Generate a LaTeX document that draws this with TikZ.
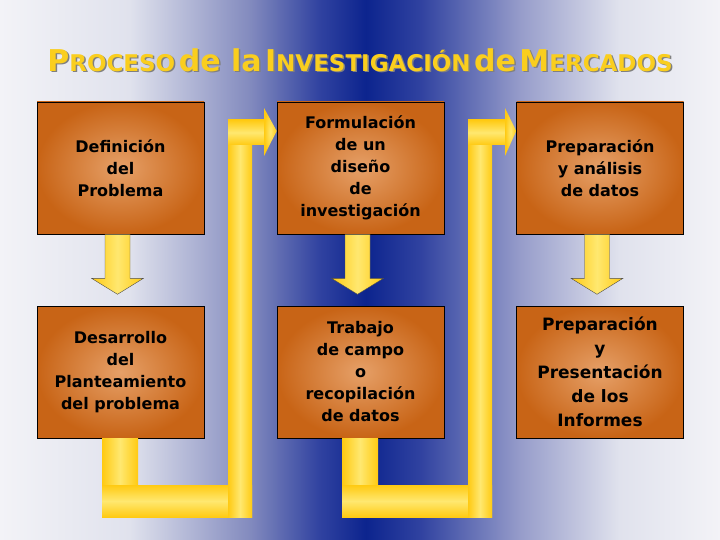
\documentclass[tikz,border=0pt]{standalone}
\usepackage{fontspec}
\setmainfont{DejaVu Sans}
\usetikzlibrary{positioning}

\definecolor{bglight}{RGB}{243,243,247}
\definecolor{bgpale}{RGB}{224,226,237}
\definecolor{bgmid}{RGB}{130,138,190}
\definecolor{bgdeep}{RGB}{48,66,160}
\definecolor{bgblue}{RGB}{12,36,142}
\definecolor{bgsoft}{RGB}{150,156,202}
\definecolor{boxdark}{RGB}{200,100,22}
\definecolor{boxlight}{RGB}{230,160,104}
\definecolor{ydark}{RGB}{255,202,18}
\definecolor{ylight}{RGB}{255,232,112}
\definecolor{titleyellow}{RGB}{250,206,30}

% background, dark blue in the middle
\pgfdeclarehorizontalshading{backshade}{100bp}{color(0bp)=(bglight); color(25bp)=(bglight);
  color(34bp)=(bgpale); color(42.4bp)=(bgmid); color(47.2bp)=(bgdeep); color(50.4bp)=(bgblue);
  color(54.2bp)=(bgdeep); color(61.1bp)=(bgsoft); color(68bp)=(bgpale); color(75bp)=(bglight);
  color(100bp)=(bglight)}

\newcommand{\tbig}[1]{{\fontsize{30}{34}\selectfont #1}}
\newcommand{\tsmall}[1]{{\fontsize{23}{34}\selectfont #1}}
\newcommand{\titletext}{\bfseries\tbig{P}\tsmall{ROCESO} \tbig{de la} \tbig{I}\tsmall{NVESTIGACIÓN} \tbig{de} \tbig{M}\tsmall{ERCADOS}}

\begin{document}
\begin{tikzpicture}[x=1pt,y=-1pt,
  stage/.style={draw=black,line width=0.6pt,inner color=boxlight,outer color=boxdark,
    minimum width=167pt,minimum height=132pt,align=center,
    font=\bfseries\fontsize{16}{22}\selectfont},
  downarrow/.style={draw=black!70,line width=0.4pt,left color=ydark,right color=ydark,middle color=ylight},
  vband/.style={left color=ydark,right color=ydark,middle color=ylight},
  hband/.style={top color=ydark,bottom color=ydark,middle color=ylight},
  headfill/.style={inner color=ylight,outer color=ydark}]
  \useasboundingbox (0,0) rectangle (720,540);
  \shade[shading=backshade] (0,0) rectangle (720,540);

  % title with its shadow
  \node[text=black!50] (titleshadow) at (361.5,61.5) {\titletext};
  \node[text=titleyellow] (title) at (360,60) {\titletext};

  % the six stages
  \node[stage] (defi) at (120.5,168) {Definición\\del\\Problema};
  \node[stage] (form) at (360.5,168) {Formulación\\de un\\diseño\\de\\investigación};
  \node[stage] (prep) at (600,168) {Preparación\\y análisis\\de datos};
  \node[stage] (desa) at (120.5,372) {Desarrollo\\del\\Planteamiento\\del problema};
  \node[stage] (camp) at (360.5,372) {Trabajo\\de campo\\o\\recopilación\\de datos};
  \node[stage,font=\bfseries\fontsize{17}{24}\selectfont] (info) at (600,372)
    {Preparación\\y\\Presentación\\de los\\Informes};

  % arrows down
  \foreach \b in {defi,form,prep}
    \shade[downarrow] ([xshift=-15.5pt]\b.south) -- ++(0,44) -- ++(-13.5,0) -- ++(26,16)
      -- ++(26,-16) -- ++(-13.5,0) -- ++(0,-44) -- cycle;

  % band from desa up to form
  \shade[vband] ([xshift=-18.5pt]desa.south) rectangle (138,517);
  \shade[hband] (102,485) rectangle (252,517);
  \shade[vband] (228,120) rectangle (252,517);
  \shade[hband] (228,120) rectangle (264,145);
  \shade[headfill] (264,108) -- ([yshift=37pt]form.west) -- (264,156) -- cycle;

  % band from camp up to prep
  \shade[vband] ([xshift=-18.5pt]camp.south) rectangle (378,517);
  \shade[hband] (342,485) rectangle (492,517);
  \shade[vband] (468,120) rectangle (492,517);
  \shade[hband] (468,120) rectangle (505,145);
  \shade[headfill] (505,108) -- ([yshift=37pt]prep.west) -- (505,156) -- cycle;
\end{tikzpicture}
\end{document}
